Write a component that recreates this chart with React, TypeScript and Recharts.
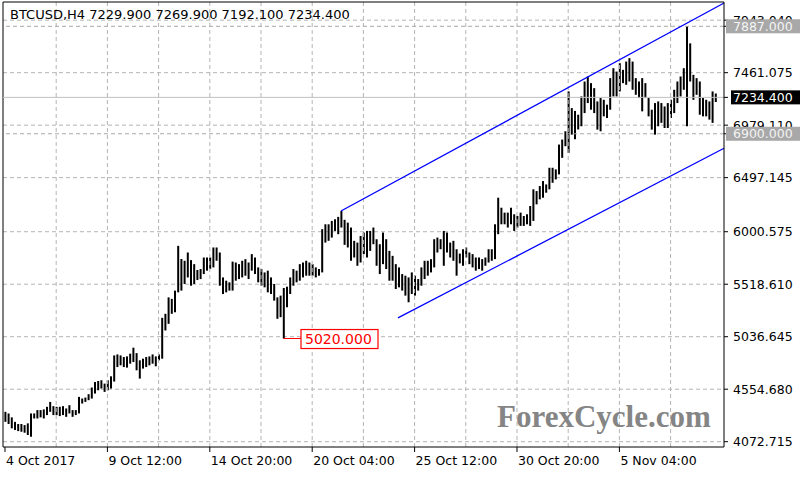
import React from "react";
import {
  Bar,
  CartesianGrid,
  ComposedChart,
  ReferenceDot,
  ReferenceLine,
  XAxis,
  YAxis,
} from "recharts";

// H4 bars (index 0 = first bar on 4 Oct 2017)
const highs = [
  4347, 4332, 4296, 4255, 4235, 4235, 4225, 4241, 4332, 4332,
  4363, 4363, 4369, 4393, 4438, 4399, 4393, 4393, 4399, 4378,
  4408, 4363, 4363, 4484, 4469, 4478, 4509, 4570, 4621, 4630,
  4637, 4606, 4637, 4673, 4865, 4874, 4865, 4850, 4856, 4881,
  4936, 4886, 4820, 4835, 4850, 4856, 4874, 4856, 4874, 5210,
  5247, 5398, 5384, 5460, 5871, 5750, 5734, 5810, 5740, 5703,
  5649, 5658, 5764, 5764, 5764, 5856, 5856, 5810, 5581, 5551,
  5536, 5726, 5718, 5703, 5734, 5749, 5718, 5795, 5764, 5673,
  5658, 5627, 5643, 5581, 5521, 5398, 5414, 5484, 5496, 5581,
  5658, 5643, 5703, 5718, 5734, 5718, 5703, 5673, 5658, 6024,
  6069, 6069, 6100, 6115, 6137, 6191, 6110, 6084, 6039, 5917,
  5901, 5962, 5993, 6008, 6008, 6039, 5932, 5886, 5993, 5932,
  5825, 5779, 5703, 5673, 5612, 5597, 5581, 5627, 5597, 5566,
  5673, 5734, 5734, 5749, 5932, 5947, 5932, 6008, 5993, 5901,
  5917, 5840, 5800, 5840, 5856, 5810, 5795, 5764, 5764, 5749,
  5764, 5840, 5840, 6069, 6313, 6221, 6176, 6176, 6221, 6161,
  6145, 6176, 6145, 6161, 6237, 6390, 6374, 6420, 6466, 6435,
  6588, 6588, 6573, 6801, 6847, 6923, 7289, 7136, 7110, 7075,
  7243, 7380, 7426, 7365, 7319, 7197, 7228, 7212, 7167, 7411,
  7502, 7471, 7548, 7487, 7563, 7594, 7563, 7411, 7380, 7411,
  7365, 7228, 7121, 7182, 7197, 7182, 7151, 7182, 7212, 7304,
  7380, 7426, 7502, 7887, 7730, 7441, 7411, 7380, 7228, 7212,
  7197, 7289, 7269.9,
];

const lows = [
  4255, 4235, 4195, 4180, 4170, 4164, 4155, 4134, 4118, 4286,
  4286, 4296, 4286, 4317, 4347, 4317, 4317, 4308, 4317, 4301,
  4332, 4301, 4317, 4332, 4423, 4438, 4454, 4469, 4515, 4545,
  4561, 4530, 4545, 4561, 4625, 4758, 4774, 4758, 4753, 4789,
  4804, 4728, 4652, 4744, 4758, 4774, 4789, 4765, 4820, 4835,
  5094, 5155, 5247, 5261, 5444, 5460, 5521, 5581, 5505, 5521,
  5557, 5566, 5612, 5643, 5658, 5673, 5734, 5505, 5429, 5444,
  5460, 5460, 5551, 5566, 5581, 5597, 5566, 5643, 5612, 5536,
  5505, 5490, 5444, 5429, 5368, 5201, 5216, 5020, 5307, 5429,
  5505, 5536, 5551, 5581, 5597, 5597, 5597, 5581, 5597, 5627,
  5901, 5917, 5947, 6008, 5978, 6039, 5880, 5856, 5734, 5764,
  5688, 5718, 5795, 5764, 5825, 5886, 5688, 5612, 5703, 5658,
  5551, 5551, 5475, 5490, 5460, 5414, 5353, 5429, 5414, 5460,
  5505, 5566, 5597, 5627, 5673, 5810, 5840, 5688, 5810, 5764,
  5734, 5597, 5710, 5688, 5764, 5703, 5673, 5643, 5658, 5643,
  5688, 5718, 5734, 5749, 5978, 6069, 6069, 6039, 6069, 6008,
  6039, 6054, 6054, 6069, 6054, 6100, 6252, 6298, 6313, 6359,
  6390, 6450, 6481, 6527, 6679, 6786, 6725, 6892, 6850, 6940,
  6969, 7090, 7182, 7121, 7090, 6938, 6923, 7060, 7045, 7121,
  7243, 7243, 7289, 7365, 7350, 7380, 7304, 7258, 7228, 7106,
  7228, 7060, 6938, 6892, 6969, 7000, 6953, 6953, 7045, 7090,
  7182, 7243, 7304, 6969, 7380, 7212, 7258, 7075, 7060, 7060,
  7030, 7000, 7192.1,
];

const timeTickIdx = [0, 32, 64, 96, 128, 160, 192];
const timeTickLabels = [
  "4 Oct 2017",
  "9 Oct 12:00",
  "14 Oct 20:00",
  "20 Oct 04:00",
  "25 Oct 12:00",
  "30 Oct 20:00",
  "5 Nov 04:00",
];
const gridIdx = [16, 32, 48, 64, 80, 96, 112, 128, 144, 160, 176, 192, 208];

const priceTicks = [
  4072.715, 4554.68, 5036.645, 5518.61, 6000.575, 6497.145, 6979.11,
  7461.075, 7943.04,
];

const symbolLabel = "BTCUSD,H4";
const lastOhlc = [7229.9, 7269.9, 7192.1, 7234.4];
const lastClose = 7234.4;
const levels = [7887, 6900];
const swingLow = { idx: 87, price: 5020, tagIdx: 92.5 };
const upperChannel = [
  { x: 105, y: 6191 },
  { x: 224.7, y: 8101 },
];
const lowerChannel = [
  { x: 122.8, y: 5209 },
  { x: 224.7, y: 6767 },
];

const X_DOMAIN: [number, number] = [-0.625, 224.69];
const Y_DOMAIN: [number, number] = [4024, 8110];

const rows = highs.map((h, i) => ({ idx: i, range: [lows[i], h] }));

// tagged levels go last so their boxes sit on top of the plain labels
const axisTicks = [...priceTicks, lastClose, ...levels];

const FONT = '"DejaVu Sans", Verdana, sans-serif';
const GRID = "#b4b4b4";
const LEVEL_GRAY = "#a8a8a8";

function TimeTick(props: any) {
  const { x, y, payload } = props;
  const k = timeTickIdx.indexOf(payload.value);
  return (
    <text x={x + 1} y={y} dy={11} textAnchor="start" fontSize={12.5} fill="#000" fontFamily={FONT}>
      {timeTickLabels[k]}
    </text>
  );
}

function PriceTick(props: any) {
  const { x, y, payload } = props;
  const v: number = payload.value;
  const label = v.toFixed(3);
  if (v === lastClose || levels.includes(v)) {
    const isLast = v === lastClose;
    const left = isLast ? x - 2 : x - 7;
    return (
      <g>
        <rect x={left} y={y - 7} width={800 - left} height={14} fill={isLast ? "#000" : LEVEL_GRAY} />
        <text x={x} y={y} dy="0.36em" textAnchor="start" fontSize={12.5} fill={isLast ? "#fff" : "#f4f4f4"} fontFamily={FONT}>
          {label}
        </text>
      </g>
    );
  }
  return (
    <text x={x} y={y} dy="0.36em" textAnchor="start" fontSize={12.5} fill="#000" fontFamily={FONT}>
      {label}
    </text>
  );
}

function LowTag(props: any) {
  const { cx, cy } = props;
  if (cx == null) return null;
  return (
    <g>
      <rect x={cx} y={cy - 9} width={77} height={19} fill="#fff" stroke="#ff0000" strokeWidth={1.2} />
      <text x={cx + 4} y={cy} dy="0.38em" fontSize={14} fill="#ff0000" fontFamily={FONT}>
        {swingLow.price.toFixed(3)}
      </text>
    </g>
  );
}

export default function App() {
  return (
    <div
      style={{
        position: "absolute",
        left: 0,
        top: 0,
        width: 800,
        height: 480,
        background: "#fff",
        fontFamily: FONT,
        overflow: "hidden",
      }}
    >
      <ComposedChart
        width={800}
        height={480}
        data={rows}
        margin={{ top: 2, right: 0, bottom: 0, left: 3 }}
      >
        <CartesianGrid
          vertical={false}
          horizontalValues={priceTicks}
          stroke={GRID}
          strokeDasharray="4 3"
        />
        {gridIdx.map((g) => (
          <ReferenceLine key={g} x={g} stroke={GRID} strokeDasharray="4 3" />
        ))}
        <XAxis
          dataKey="idx"
          type="number"
          domain={X_DOMAIN}
          allowDataOverflow
          ticks={timeTickIdx}
          interval={0}
          tick={<TimeTick />}
          tickSize={5}
          height={33}
          axisLine={{ stroke: "#000" }}
          tickLine={{ stroke: "#000" }}
        />
        <YAxis
          orientation="right"
          type="number"
          domain={Y_DOMAIN}
          allowDataOverflow
          ticks={axisTicks}
          interval={0}
          tick={<PriceTick />}
          tickSize={4}
          tickMargin={5}
          width={76}
          axisLine={{ stroke: "#000" }}
          tickLine={{ stroke: "#000" }}
        />
        <ReferenceLine x={X_DOMAIN[0]} stroke="#000" />
        <ReferenceLine y={Y_DOMAIN[1]} stroke="#000" />
        <ReferenceLine y={lastClose} stroke="#c0c0c0" />
        {levels.map((lv) => (
          <ReferenceLine key={lv} y={lv} stroke={LEVEL_GRAY} strokeDasharray="4 3" />
        ))}
        <Bar dataKey="range" fill="#000" barSize={2} isAnimationActive={false} />
        <ReferenceLine segment={upperChannel} stroke="#0000ff" strokeWidth={1.3} ifOverflow="visible" />
        <ReferenceLine segment={lowerChannel} stroke="#0000ff" strokeWidth={1.3} ifOverflow="visible" />
        <ReferenceLine
          segment={[
            { x: swingLow.idx, y: swingLow.price },
            { x: swingLow.tagIdx, y: swingLow.price },
          ]}
          stroke="#ff0000"
        />
        <ReferenceDot x={swingLow.tagIdx} y={swingLow.price} shape={<LowTag />} />
      </ComposedChart>
      <div
        style={{
          position: "absolute",
          left: 10,
          top: 7,
          fontSize: 13,
          color: "#000",
          whiteSpace: "pre",
          lineHeight: "16px",
        }}
      >
        {symbolLabel + " " + lastOhlc.map((v) => v.toFixed(3)).join(" ")}
      </div>
      <div
        style={{
          position: "absolute",
          left: 497,
          top: 399,
          fontSize: 31,
          fontWeight: "bold",
          fontFamily: '"Liberation Serif", "DejaVu Serif", serif',
          color: "#858585",
          lineHeight: "36px",
          whiteSpace: "pre",
        }}
      >
        ForexCycle.com
      </div>
    </div>
  );
}
